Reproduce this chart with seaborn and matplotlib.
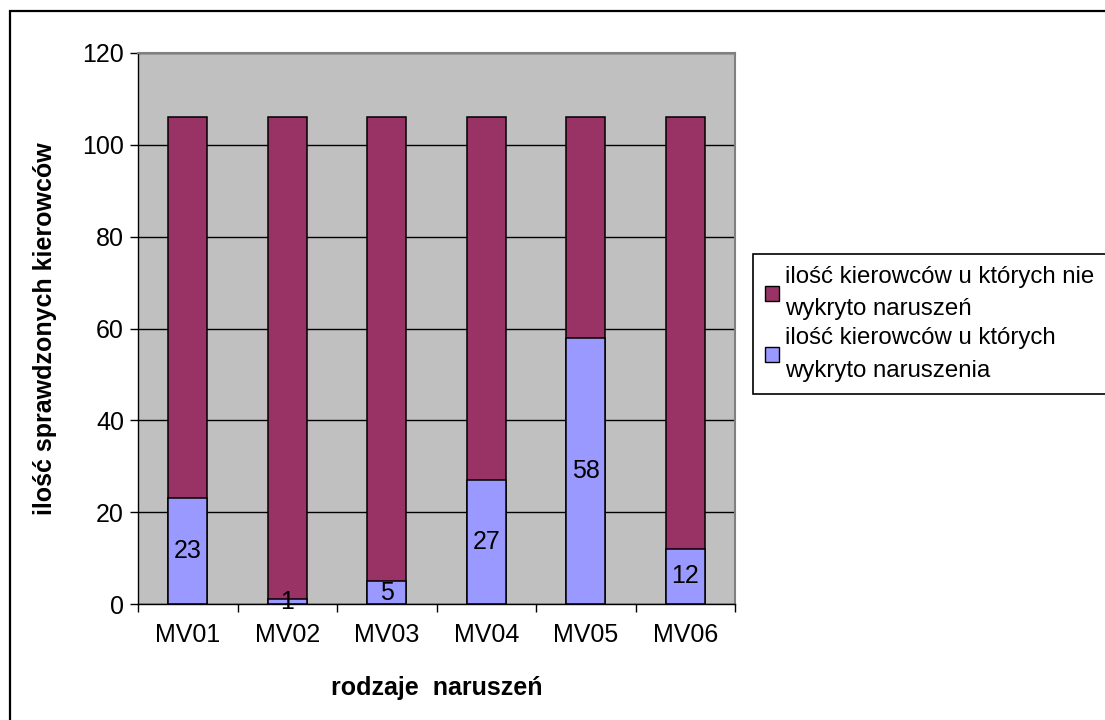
import matplotlib
matplotlib.use("Agg")
import matplotlib.pyplot as plt
import pandas as pd
import seaborn as sns
from matplotlib.patches import Patch, Rectangle

# Roadside inspection results per violation category
categories = ["MV01", "MV02", "MV03", "MV04", "MV05", "MV06"]
with_violations = [23, 1, 5, 27, 58, 12]
without_violations = [83, 105, 101, 79, 48, 94]
series_labels = [
    "ilość kierowców u których nie\nwykryto naruszeń",
    "ilość kierowców u których\nwykryto naruszenia",
]
y_ticks = [0, 20, 40, 60, 80, 100, 120]

COL_NO = "#993366"
COL_YES = "#9999FF"
BG = "#C0C0C0"

sns.set_theme(style="white")
plt.rcParams["font.family"] = ["Liberation Sans", "DejaVu Sans"]
plt.rcParams["text.color"] = "black"
plt.rcParams["axes.labelcolor"] = "black"
plt.rcParams["xtick.color"] = "black"
plt.rcParams["ytick.color"] = "black"

df = pd.DataFrame({
    "kategoria": categories,
    "z_naruszeniami": with_violations,
    "bez_naruszen": without_violations,
})
df["razem"] = df["z_naruszeniami"] + df["bez_naruszen"]

W, H = 1105, 720
fig = plt.figure(figsize=(W / 100, H / 100), dpi=100)
fig.patch.set_facecolor("white")

ax = fig.add_axes([138 / W, 1 - 604 / H, 597 / W, 551 / H])
ax.set_facecolor(BG)
ax.set_axisbelow(True)

# stacked bars: full height in maroon, lower segment overdrawn in lavender
sns.barplot(data=df, x="kategoria", y="razem", color=COL_NO, saturation=1,
            width=0.39, edgecolor="black", linewidth=1.1, errorbar=None, ax=ax)
sns.barplot(data=df, x="kategoria", y="z_naruszeniami", color=COL_YES,
            saturation=1, width=0.39, edgecolor="black", linewidth=1.1,
            errorbar=None, ax=ax)

ax.bar_label(ax.containers[1], labels=[str(v) for v in with_violations],
             label_type="center", fontsize=18, color="black")

ax.set_ylim(0, 120)
ax.set_xlim(-0.5, len(categories) - 0.5)
ax.set_yticks(y_ticks)
ax.yaxis.grid(True, color="black", linewidth=1.0)
ax.xaxis.grid(False)

# category labels centred, tick marks on the category boundaries
ax.set_xticks(range(len(categories)))
ax.set_xticklabels(categories)
ax.set_xticks([i - 0.5 for i in range(len(categories) + 1)], minor=True)
ax.tick_params(axis="x", which="major", length=0, pad=14, labelsize=18)
ax.tick_params(axis="x", which="minor", length=6, width=1.0, color="black",
               direction="out")
ax.tick_params(axis="y", which="major", length=6, width=1.0, color="black",
               direction="out", labelsize=18, pad=4)
ax.tick_params(bottom=True, left=True, which="both")

for side in ("left", "bottom"):
    ax.spines[side].set_color("black")
    ax.spines[side].set_linewidth(1.0)
for side in ("top", "right"):
    ax.spines[side].set_color("#808080")
    ax.spines[side].set_linewidth(1.5)

ax.set_xlabel("rodzaje  naruszeń", fontsize=18, fontweight="bold")
ax.set_ylabel("ilość sprawdzonych kierowców", fontsize=18, fontweight="bold")
ax.xaxis.set_label_coords(0.5, (604 - 688) / 551)
ax.xaxis.label.set_verticalalignment("center")
ax.yaxis.set_label_coords((45 - 138) / 597, 0.5)
ax.yaxis.label.set_verticalalignment("center")

handles = [
    Patch(facecolor=COL_NO, edgecolor="black", linewidth=1.0),
    Patch(facecolor=COL_YES, edgecolor="black", linewidth=1.0),
]
leg = fig.legend(handles, series_labels, loc="upper left",
                 bbox_to_anchor=(753 / W, 1 - 254 / H),
                 fontsize=17.3, frameon=True, fancybox=False, framealpha=1,
                 edgecolor="black", handlelength=0.6, handleheight=0.6,
                 handletextpad=0.25, borderpad=0.5, labelspacing=0.3,
                 borderaxespad=0)
leg.get_frame().set_linewidth(1.2)
for t in leg.get_texts():
    t.set_linespacing(1.6)

# outer chart frame
fig.add_artist(Rectangle((10 / W, -0.05), 1.1, 1 - 11 / H + 0.05,
                         transform=fig.transFigure, fill=False,
                         edgecolor="black", linewidth=1.6, clip_on=False))

fig.savefig("out.png", dpi=100)
